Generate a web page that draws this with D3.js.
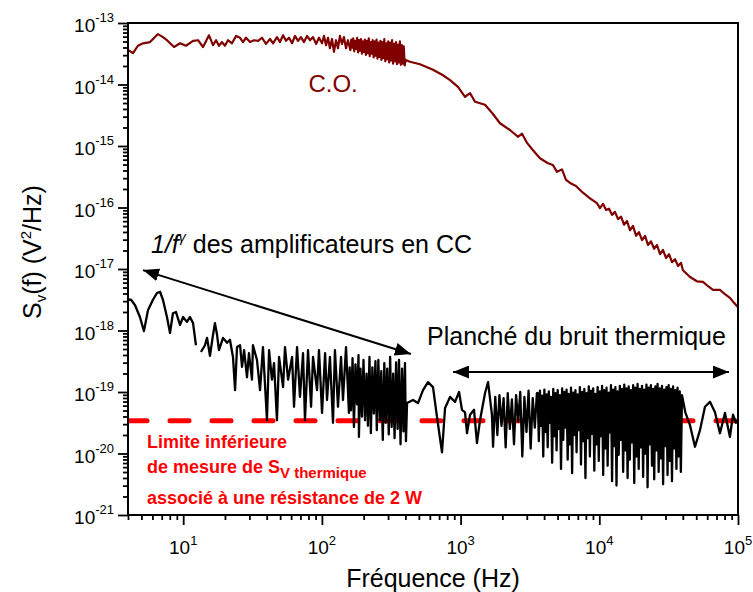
<!DOCTYPE html>
<html><head><meta charset="utf-8">
<script src="https://cdn.jsdelivr.net/npm/d3@7"></script>
<style>
body{margin:0;background:#fff}
svg{display:block}
text{font-family:"Liberation Sans",Arial,Helvetica,sans-serif}
</style>
</head><body>
<svg id="c" width="753" height="592"></svg>
<script>
// ---------- data ----------
const xDomain = [4, 1e5];
const yDomain = [1e-21, 1e-13];
const xTickExp = [1, 2, 3, 4, 5];
const yTickExp = [-21, -20, -19, -18, -17, -16, -15, -14, -13];
const xTitle = "Fréquence (Hz)";
const limitLevel = 3.4e-20;

// C.O. spectrum (log10 f, log10 S)
const coLogF = [0.602,0.638,0.674,0.710,0.761,0.818,0.854,0.883,0.934,0.977,1.020,1.071,1.107,1.143,1.186,1.215,1.237,1.258,1.280,1.301,1.323,1.352,1.381,1.410,1.431,1.453,1.482,1.511,1.540,1.568,1.597,1.626,1.648,1.676,1.698,1.720,1.741,1.763,1.785,1.806,1.828,1.849,1.871,1.893,1.914,1.936,1.958,1.979,2.001,2.015,2.030,2.044,2.058,2.073,2.087,2.102,2.116,2.130,2.145,2.159,2.174,2.188,
2.205,2.212,2.219,2.226,2.233,2.240,2.247,2.254,2.261,2.268,2.275,2.282,2.289,2.296,2.303,2.310,2.317,2.324,2.331,2.338,2.345,2.352,2.359,2.366,2.373,2.380,2.387,2.394,2.401,2.408,2.415,2.422,2.429,2.436,2.443,2.450,2.457,2.464,2.471,2.478,2.485,2.492,2.499,2.506,2.513,2.520,2.527,2.534,2.541,2.548,2.555,2.562,2.569,2.576,2.583,2.590,2.597,2.604,
2.635,2.707,2.801,2.873,2.924,2.981,3.032,3.068,3.104,3.176,3.226,3.284,3.356,3.413,3.443,3.479,3.522,3.572,3.630,3.666,3.695,3.731,3.760,3.789,3.832,3.882,3.933,3.983,4.005,4.027,4.049,4.070,4.092,4.113,4.135,4.157,4.178,4.200,4.221,4.243,4.265,4.286,4.308,4.330,4.351,4.373,4.395,4.416,4.438,4.459,4.481,4.503,4.524,4.546,4.568,4.589,4.603,4.654,4.704,4.748,4.784,4.820,4.870,4.906,4.942,4.971,5.000];
const coLogS = [-13.44,-13.49,-13.37,-13.33,-13.31,-13.18,-13.23,-13.28,-13.39,-13.33,-13.37,-13.29,-13.28,-13.39,-13.20,-13.36,-13.28,-13.37,-13.31,-13.37,-13.28,-13.33,-13.21,-13.24,-13.31,-13.24,-13.31,-13.28,-13.29,-13.24,-13.34,-13.26,-13.33,-13.23,-13.31,-13.20,-13.29,-13.24,-13.33,-13.21,-13.29,-13.23,-13.31,-13.21,-13.28,-13.23,-13.34,-13.24,-13.33,-13.21,-13.36,-13.24,-13.41,-13.26,-13.47,-13.28,-13.41,-13.21,-13.34,-13.23,-13.41,-13.28,
-13.44,-13.27,-13.40,-13.25,-13.46,-13.29,-13.42,-13.24,-13.48,-13.28,
-13.45,-13.26,-13.50,-13.30,-13.47,-13.27,-13.52,-13.29,-13.49,-13.25,
-13.54,-13.31,-13.50,-13.28,-13.56,-13.30,-13.53,-13.27,-13.58,-13.32,
-13.55,-13.29,-13.60,-13.31,-13.57,-13.26,-13.62,-13.33,-13.59,-13.30,
-13.64,-13.32,-13.61,-13.28,-13.66,-13.34,-13.62,-13.31,-13.67,-13.35,
-13.64,-13.30,-13.68,-13.36,-13.66,-13.38,-13.69,-13.60,
-13.63,-13.67,-13.76,-13.85,-13.93,-14.04,-14.20,-14.14,-14.28,-14.33,-14.46,-14.63,-14.74,-14.85,-14.80,-14.95,-15.07,-15.20,-15.28,-15.31,-15.42,-15.38,-15.55,-15.60,-15.65,-15.76,-15.85,-15.93,-16.01,-15.94,-16.04,-16.02,-16.12,-16.07,-16.19,-16.15,-16.28,-16.22,-16.37,-16.30,-16.46,-16.40,-16.53,-16.46,-16.61,-16.55,-16.67,-16.61,-16.76,-16.69,-16.82,-16.76,-16.89,-16.84,-16.95,-16.90,-17.02,-17.13,-17.20,-17.21,-17.28,-17.34,-17.34,-17.41,-17.47,-17.55,-17.62];

// CC (short-circuit) spectrum (log10 f, log10 S); null = gap
const ccLogF = [0.602,0.624,0.653,0.688,0.717,0.746,0.782,0.811,0.833,0.854,0.883,0.905,0.926,0.948,0.977,0.999,1.027,1.049,1.071,1.092,null,1.128,1.157,1.172,1.193,1.215,1.229,1.244,1.258,
1.265,1.287,1.316,1.337,1.359,1.374,1.388,1.410,1.424,1.439,1.460,1.474,1.496,1.503,1.532,1.554,1.575,1.604,1.619,1.640,1.655,1.676,1.691,1.720,1.734,1.756,1.785,1.799,1.821,1.842,1.864,1.878,1.900,1.922,1.936,1.965,1.979,2.001,2.023,2.037,2.058,2.080,2.094,2.116,2.138,2.152,2.174,2.195,
2.200,2.210,2.221,2.231,2.242,2.253,2.264,2.267,2.278,2.289,2.300,2.311,2.322,2.332,2.343,2.353,2.364,2.375,2.386,2.396,2.407,2.418,2.428,2.439,2.450,2.460,2.471,2.482,2.492,2.503,2.514,2.524,2.535,2.546,2.556,2.567,2.578,2.588,2.599,2.606,
2.614,2.657,2.693,2.729,2.765,2.801,2.830,2.866,2.888,2.924,2.960,2.989,3.010,3.032,3.046,3.068,3.097,3.118,3.140,3.176,3.198,3.226,3.234,
3.250,3.265,3.280,3.295,3.310,3.325,3.340,3.355,3.370,3.385,3.400,3.415,3.430,3.445,3.460,3.475,3.490,3.505,3.520,3.535,3.550,
3.556,3.564,3.572,3.580,3.588,3.596,3.604,3.612,3.620,3.628,3.636,3.644,3.652,3.660,3.668,3.676,3.684,3.692,3.700,3.708,3.716,3.724,3.732,3.740,3.748,3.756,3.764,3.772,3.780,3.788,3.796,3.804,3.812,3.820,3.828,3.836,3.844,3.852,3.860,3.868,3.876,3.884,3.892,3.900,3.908,3.916,3.924,3.932,3.940,3.948,3.956,3.964,3.972,3.980,3.988,3.996,4.004,4.012,4.020,4.028,4.036,4.044,4.052,4.060,4.068,4.076,4.084,4.092,4.100,4.108,4.116,4.124,4.132,4.140,4.148,4.156,4.164,4.172,4.180,4.188,4.196,4.204,4.212,4.220,4.228,4.236,4.244,4.252,4.260,4.268,4.276,4.284,4.292,4.300,4.308,4.316,4.324,4.332,4.340,4.348,4.356,4.364,4.372,4.380,4.388,4.396,4.404,4.412,4.420,4.428,4.436,4.444,4.452,4.460,4.468,4.476,4.484,4.492,4.500,4.508,4.516,4.524,4.532,4.540,4.548,4.556,4.564,4.572,4.580,4.588,4.596,
4.620,4.654,4.690,4.726,4.762,4.798,4.834,4.870,4.906,4.942,4.964,4.985,5.000];
const ccLogS = [-17.50,-17.50,-17.59,-17.78,-18.01,-17.67,-17.50,-17.39,-17.37,-17.50,-17.78,-18.04,-17.72,-17.70,-17.91,-17.78,-17.86,-17.78,-17.88,-18.24,null,-18.35,-18.24,-18.12,-18.41,-18.07,-17.88,-18.07,-18.32,
-18.27,-18.12,-18.20,-18.15,-18.43,-18.97,-18.27,-18.24,-18.59,-18.32,-18.76,-18.37,-18.80,-18.24,-18.48,-18.97,-18.27,-19.46,-18.32,-18.80,-18.53,-19.46,-18.43,-18.92,-18.27,-18.80,-18.43,-19.24,-18.27,-19.08,-18.37,-19.46,-18.32,-19.24,-18.43,-18.97,-18.32,-19.34,-18.37,-19.13,-18.43,-19.50,-18.32,-19.24,-18.43,-19.13,-18.27,-19.34,
-18.60,-19.30,-18.45,-19.57,-18.55,-19.20,-18.40,-19.73,-18.62,-19.40,-18.48,-19.46,-18.70,-19.55,-18.43,-19.67,-18.60,-19.35,-18.50,-19.62,-18.48,-19.46,-18.66,-19.78,-18.53,-19.50,-18.62,-19.69,-18.43,-19.57,-18.70,-19.75,-18.52,-19.60,-18.48,-19.85,-18.62,-19.64,-18.53,-19.80,
-19.18,-19.13,-19.18,-18.97,-18.84,-18.92,-19.41,-19.98,-19.26,-19.08,-19.16,-19.00,-19.29,-19.33,-19.67,-19.37,-19.29,-19.83,-19.46,-19.02,-18.84,-19.37,-19.89,
-19.08,-19.70,-19.05,-19.55,-19.10,-19.90,-19.02,-19.60,-19.12,-19.85,-19.05,-19.48,-19.00,-20.05,-19.08,-19.65,-18.98,-19.92,-19.10,-19.58,-19.02,
-19.02,-19.80,-18.98,-19.55,-19.06,-20.05,-18.96,-19.65,-19.04,-19.90,
-18.99,-19.50,-19.08,-20.15,-18.95,-19.72,-19.02,-19.95,-18.97,-19.60,
-19.05,-20.25,-18.94,-19.78,-19.00,-19.58,-18.96,-20.10,-19.03,-19.85,
-18.93,-20.32,-19.01,-19.70,-18.97,-19.98,-19.04,-19.62,-18.92,-20.18,
-19.00,-19.80,-18.95,-20.40,-19.02,-19.75,-18.91,-20.05,-18.98,-19.68,
-18.94,-20.28,-19.03,-19.85,-18.92,-20.12,-18.99,-19.72,-18.90,-20.35,
-18.97,-19.92,-18.93,-20.20,-19.01,-19.66,-18.89,-20.45,-18.96,-19.88,
-18.92,-20.52,-18.99,-20.02,-18.90,-19.78,-18.95,-20.30,-18.88,-19.95,
-18.94,-20.40,-18.91,-20.10,-18.97,-19.82,-18.89,-20.48,-18.93,-20.05,
-18.87,-20.25,-18.95,-19.90,-18.90,-20.38,-18.96,-20.00,-18.88,-20.55,
-18.93,-19.85,-18.89,-20.20,-18.95,-20.42,-18.91,-19.95,-18.87,-20.30,
-18.94,-20.08,-18.90,-20.50,-18.96,-19.88,-18.92,-20.35,-18.89,-20.12,
-18.95,-20.45,-18.91,-19.92,-18.97,-20.25,-18.93,-20.05,-18.99,-20.30,-19.05,
-19.33,-19.54,-19.89,-19.62,-19.24,-19.16,-19.33,-19.67,-19.34,-19.73,-19.37,-19.50,-19.45];

// ---------- chart ----------
const svg = d3.select("#c");
const L = 128, R = 738, T = 23, B = 515;
const x = d3.scaleLog().domain(xDomain).range([L, R]);
const y = d3.scaleLog().domain(yDomain).range([B, T]);

svg.append("rect").attr("width",753).attr("height",592).attr("fill","#fff");

const defs = svg.append("defs");
defs.append("clipPath").attr("id","clip").append("rect")
  .attr("x",L).attr("y",T).attr("width",R-L).attr("height",B-T);
defs.append("marker").attr("id","ah").attr("markerUnits","userSpaceOnUse")
  .attr("markerWidth",17).attr("markerHeight",13).attr("refX",16).attr("refY",6.5)
  .attr("orient","auto-start-reverse")
  .append("path").attr("d","M0,0 L16,6.5 L0,13 Z").attr("fill","#000");

function minors(lo, hi){
  const a=[];
  for(let e=Math.floor(Math.log10(lo)); e<=Math.ceil(Math.log10(hi)); e++)
    for(let m=2;m<=9;m++){const v=m*Math.pow(10,e); if(v>=lo*0.9999 && v<=hi*1.0001) a.push(v);}
  return a;
}
function styleAxis(g){ g.select(".domain").remove(); g.selectAll(".tick line").attr("stroke","#000").attr("stroke-width",1.8); }

svg.append("g").attr("transform",`translate(0,${B})`)
  .call(d3.axisBottom(x).tickValues(minors(xDomain[0],xDomain[1])).tickSize(5).tickFormat(""))
  .call(styleAxis);
svg.append("g").attr("transform",`translate(0,${B})`)
  .call(d3.axisBottom(x).tickValues(xTickExp.map(e=>Math.pow(10,e))).tickSize(10).tickFormat(""))
  .call(styleAxis);
svg.append("g").attr("transform",`translate(${L},0)`)
  .call(d3.axisLeft(y).tickValues(minors(yDomain[0],yDomain[1])).tickSize(5).tickFormat(""))
  .call(styleAxis);
svg.append("g").attr("transform",`translate(${L},0)`)
  .call(d3.axisLeft(y).tickValues(yTickExp.map(e=>Math.pow(10,e))).tickSize(10).tickFormat(""))
  .call(styleAxis);

// tick labels
const xl = svg.append("g").selectAll("text").data(xTickExp).join("text")
  .attr("x",d=>x(Math.pow(10,d))).attr("y",554).attr("text-anchor","middle")
  .style("font-size","19px").attr("fill","#000");
xl.append("tspan").text("10");
xl.append("tspan").attr("dy",-9).style("font-size","13px").text(d=>d);

const yl = svg.append("g").selectAll("text").data(yTickExp).join("text")
  .attr("x",114).attr("y",d=>y(Math.pow(10,d))+9).attr("text-anchor","end")
  .style("font-size","19px").attr("fill","#000");
yl.append("tspan").text("10");
yl.append("tspan").attr("dy",-10).style("font-size","13px").text(d=>String(d));

// axis titles
svg.append("text").attr("x",(L+R)/2).attr("y",587).attr("text-anchor","middle")
  .style("font-size","25px").text(xTitle);
const yt = svg.append("text").attr("transform","translate(41,252) rotate(-90)")
  .attr("text-anchor","middle").style("font-size","25px");
yt.append("tspan").text("S");
yt.append("tspan").attr("dy",5).style("font-size","15px").text("v");
yt.append("tspan").attr("dy",-5).text("(f) (V");
yt.append("tspan").attr("dy",-10).style("font-size","15px").text("2");
yt.append("tspan").attr("dy",10).text("/Hz)");

// plot content
const plot = svg.append("g").attr("clip-path","url(#clip)");
plot.append("line")
  .attr("x1",x(xDomain[0])).attr("x2",x(xDomain[1]))
  .attr("y1",y(limitLevel)).attr("y2",y(limitLevel))
  .attr("stroke","#ff0000").attr("stroke-width",5)
  .attr("stroke-dasharray","19,23").attr("stroke-linecap","round");

const line = d3.line()
  .defined(d=>d[0]!==null && d[1]!==null)
  .x(d=>x(Math.pow(10,d[0]))).y(d=>y(Math.pow(10,d[1])));

const ccData = ccLogF.map((f,i)=>[f, ccLogS[i]]);
plot.append("path").datum(ccData).attr("d",line)
  .attr("fill","none").attr("stroke","#000").attr("stroke-width",2.3).attr("stroke-linejoin","round");

const coData = coLogF.map((f,i)=>[f, coLogS[i]]);
plot.append("path").datum(coData).attr("d",line)
  .attr("fill","none").attr("stroke","#800000").attr("stroke-width",2.2).attr("stroke-linejoin","round");

// frame
svg.append("rect").attr("x",L).attr("y",T).attr("width",R-L).attr("height",B-T)
  .attr("fill","none").attr("stroke","#000").attr("stroke-width",2);

// annotations
svg.append("text").attr("x",x(80)).attr("y",y(7.6e-15))
  .style("font-size","24px").attr("fill","#800000").text("C.O.");

const a1 = svg.append("text").attr("x",x(5.86)).attr("y",y(1.82e-17)).style("font-size","25px");
a1.append("tspan").style("font-style","italic").text("1/f");
a1.append("tspan").style("font-style","italic").style("font-size","14px").attr("dy",-11).text("γ");
a1.append("tspan").attr("dy",11).text(" des amplificateurs en CC");

svg.append("text").attr("x",x(573)).attr("y",y(5.8e-19)).style("font-size","25px")
  .text("Planché du bruit thermique");

svg.append("line").attr("x1",x(5.13)).attr("y1",y(9.6e-18)).attr("x2",x(438)).attr("y2",y(4.15e-19))
  .attr("stroke","#000").attr("stroke-width",2)
  .attr("marker-start","url(#ah)").attr("marker-end","url(#ah)");
svg.append("line").attr("x1",x(881)).attr("y1",y(2.11e-19)).attr("x2",x(86100)).attr("y2",y(2.11e-19))
  .attr("stroke","#000").attr("stroke-width",2)
  .attr("marker-start","url(#ah)").attr("marker-end","url(#ah)");

const rt = svg.append("text").attr("x",x(5.48)).attr("y",y(1.23e-20))
  .style("font-size","18px").style("font-weight","bold").attr("fill","#ff0000");
rt.append("tspan").text("Limite inférieure");
rt.append("tspan").attr("x",x(5.48)).attr("dy",25).text("de mesure de S");
rt.append("tspan").attr("dy",5).style("font-size","15px").text("V thermique");
rt.append("tspan").attr("x",x(5.48)).attr("dy",26).text("associé à une résistance de 2 W");
</script>
</body></html>
